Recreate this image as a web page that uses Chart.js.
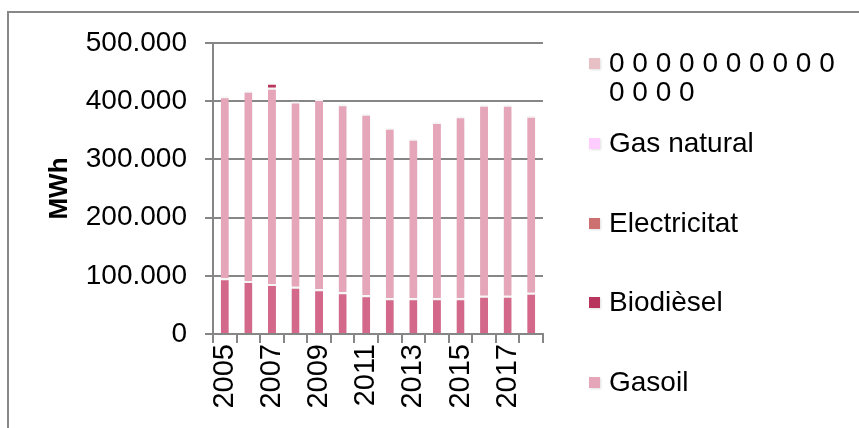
<!DOCTYPE html>
<html>
<head>
<meta charset="utf-8">
<script src="https://cdn.jsdelivr.net/npm/chart.js@4"></script>
<style>
  body { margin: 0; background: #fff; }
  #wrap { position: relative; width: 859px; height: 428px; overflow: hidden; font-family: "Liberation Sans", Arial, sans-serif; }
  #frame { position: absolute; left: 7px; top: 11px; width: 900px; height: 500px; border-top: 2px solid #888; border-left: 2px solid #888; pointer-events: none; }
  #legend { position: absolute; left: 0; top: 0; }
  .item { position: absolute; left: 589px; }
  .sw { position: absolute; left: 0; width: 11px; height: 11px; box-shadow: 1px 1px 2px rgba(0,0,0,0.12); }
  .txt { position: absolute; left: 20px; width: 232px; font-size: 28px; line-height: 28.5px; color: #000; }
</style>
</head>
<body>
<div id="wrap">
  <canvas id="chart" width="859" height="428"></canvas>
  <div id="legend"></div>
  <div id="frame"></div>
</div>
<script>
// Years on the x axis
const years = ['2005', '2006', '2007', '2008', '2009', '2010', '2011', '2012', '2013', '2014', '2015', '2016', '2017', '2018'];

// Series values (MWh)
const baseSerie = [95700, 91100, 85900, 81300, 76800, 71600, 66500, 61300, 61300, 61300, 61300, 65800, 65800, 71000];
const gasoil = [313000, 327000, 337000, 318000, 327000, 323000, 312000, 293000, 274000, 303000, 313000, 328000, 328000, 304000];
const biodiesel = [0, 0, 9000, 0, 0, 0, 0, 0, 0, 0, 0, 0, 0, 0];
const electricitat = [0, 0, 0, 0, 0, 0, 0, 0, 0, 0, 0, 0, 0, 0];
const gasNatural = [0, 0, 0, 0, 0, 0, 0, 0, 0, 0, 0, 0, 0, 0];
const zeros = [0, 0, 0, 0, 0, 0, 0, 0, 0, 0, 0, 0, 0, 0];

// Y axis ticks
const yTicks = [0, 100000, 200000, 300000, 400000, 500000];

const grey = '#868686';

function makeSet(label, data, color) {
    return {
        label: label,
        data: data,
        backgroundColor: color,
        borderColor: '#ffffff',
        borderWidth: { top: 2, left: 0, right: 0, bottom: 0 },
        borderSkipped: false,
        barPercentage: 0.34,
        categoryPercentage: 1
    };
}

const datasets = [
    makeSet('', baseSerie, '#D4688A'),
    makeSet('Gasoil', gasoil, '#E6A6B9'),
    makeSet('Biodièsel', biodiesel, '#B8365E'),
    makeSet('Electricitat', electricitat, '#CC7070'),
    makeSet('Gas natural', gasNatural, '#FFCCFF'),
    makeSet('0 0 0 0 0 0 0 0 0 0 0 0 0 0', zeros, '#E6C0C4')
];

// Soft shadow round the bars, like the Excel original
const barShadow = {
    id: 'barShadow',
    beforeDatasetsDraw(chart) {
        chart.ctx.save();
        chart.ctx.shadowColor = 'rgba(0,0,0,0.17)';
        chart.ctx.shadowBlur = 11;
    },
    afterDatasetsDraw(chart) {
        chart.ctx.restore();
    }
};

function fmt(v) {
    return String(v).replace(/\B(?=(\d{3})+(?!\d))/g, '.');
}

const chart = new Chart(document.getElementById('chart').getContext('2d'), {
    type: 'bar',
    data: { labels: years, datasets: datasets },
    plugins: [barShadow],
    options: {
        responsive: false,
        animation: false,
        layout: { padding: { left: 40, top: 43, right: 316, bottom: 0 } },
        plugins: { legend: { display: false }, tooltip: { enabled: false } },
        scales: {
            x: {
                stacked: true,
                grid: { offset: true, drawOnChartArea: false, drawTicks: true, tickLength: 9, color: grey, lineWidth: 2 },
                border: { color: grey, width: 2 },
                ticks: {
                    autoSkip: false,
                    maxRotation: 90,
                    minRotation: 90,
                    padding: 1,
                    color: '#000',
                    font: { family: '"Liberation Sans", Arial, sans-serif', size: 29 },
                    callback: function (val, i) { return i % 2 === 0 ? years[i] : ''; }
                },
                afterFit: function (scale) { scale.height = 94; }
            },
            y: {
                stacked: true,
                min: 0,
                max: 500000,
                afterBuildTicks: function (scale) { scale.ticks = yTicks.map(v => ({ value: v })); },
                grid: { color: grey, lineWidth: 2, tickLength: 8 },
                border: { color: grey, width: 2 },
                ticks: {
                    padding: 18,
                    color: '#000',
                    font: { family: '"Liberation Sans", Arial, sans-serif', size: 28 },
                    callback: function (v) { return fmt(v); }
                },
                title: {
                    display: true,
                    text: 'MWh',
                    color: '#000',
                    font: { family: '"Liberation Sans", Arial, sans-serif', size: 26, weight: 'bold' }
                },
                afterFit: function (scale) { scale.width = 173; }
            }
        }
    }
});

// Legend on the right, built from the datasets (reverse order, as in Excel)
const legendCenters = [63, 143, 223, 302, 382];
const legendEl = document.getElementById('legend');
chart.data.datasets.filter(d => d.label !== '').reverse().forEach(function (d, i) {
    const item = document.createElement('div');
    item.className = 'item';
    item.style.top = (legendCenters[i] - 14) + 'px';
    const sw = document.createElement('div');
    sw.className = 'sw';
    sw.style.top = '9px';
    sw.style.background = d.backgroundColor;
    const txt = document.createElement('div');
    txt.className = 'txt';
    txt.textContent = d.label;
    item.appendChild(sw);
    item.appendChild(txt);
    legendEl.appendChild(item);
});
</script>
</body>
</html>
